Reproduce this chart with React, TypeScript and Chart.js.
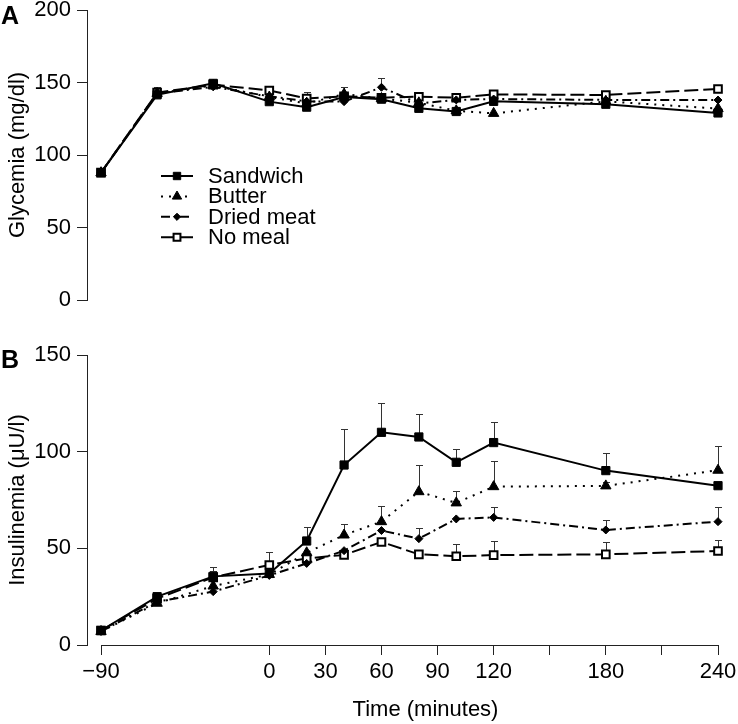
import React, { useEffect, useRef } from 'react';
import { Chart, registerables } from 'chart.js';

Chart.register(...registerables);

// ---------- data ----------
const times = [-90, -60, -30, 0, 20, 40, 60, 80, 100, 120, 180, 240];
const xTickValues = [-90, 0, 30, 60, 90, 120, 150, 180, 210, 240];
const xTickLabels = ['\u221290', '0', '30', '60', '90', '120', '', '180', '', '240'];
const seriesNames = ['Sandwich', 'Butter', 'Dried meat', 'No meal'];

// Panel A: glycemia (mg/dl)
const glySandwich = [87.8, 141.5, 149.4, 136.8, 133.0, 140.0, 138.5, 132.2, 130.0, 137.0, 135.0, 129.0];
const glyButter = [87.8, 142.5, 148.0, 140.0, 135.5, 142.0, 139.0, 136.0, 130.5, 128.7, 137.0, 132.0];
const glyDriedMeat = [87.8, 142.5, 147.0, 140.5, 137.0, 136.8, 146.7, 135.5, 138.0, 138.6, 138.0, 137.9];
const glyNoMeal = [87.8, 143.0, 148.5, 144.5, 139.0, 140.5, 139.5, 140.2, 139.5, 141.8, 141.4, 145.5];
const glySandwichErr = [0, 0, 0, 0, 0, 0, 0, 0, 0, 0, 0, 0];
const glyButterErr = [0, 0, 0, 0, 0, 5.0, 0, 0, 0, 0, 0, 0];
const glyDriedMeatErr = [0, 0, 0, 0, 0, 0, 6.2, 0, 0, 0, 0, 0];
const glyNoMealErr = [0, 4.0, 0, 0, 4.7, 0, 0, 0, 0, 0, 0, 0];

// Panel B: insulinemia (µU/l)
const insSandwich = [7.5, 25.0, 35.5, 37.0, 53.8, 93.1, 110.0, 107.6, 94.5, 104.7, 90.2, 82.4];
const insButter = [7.0, 21.6, 30.5, 36.5, 47.7, 56.9, 63.8, 79.3, 73.5, 81.9, 82.3, 90.4];
const insDriedMeat = [7.0, 22.4, 27.6, 36.0, 42.2, 48.8, 59.2, 55.0, 65.2, 66.0, 59.5, 63.8];
const insNoMeal = [7.5, 24.0, 35.0, 41.4, 44.8, 46.6, 53.3, 46.9, 45.9, 46.5, 46.9, 48.6];
const insSandwichErr = [0, 0, 5.0, 0, 7.2, 18.5, 15.0, 12.0, 7.0, 10.5, 9.3, 0];
const insButterErr = [0, 0, 0, 0, 0, 5.7, 8.3, 14.0, 6.3, 13.4, 2.2, 12.4];
const insDriedMeatErr = [0, 0, 0, 0, 0, 0, 0, 5.4, 0, 5.5, 5.0, 7.4];
const insNoMealErr = [0, 0, 3.5, 6.9, 0, 0, 0, 0, 6.5, 7.1, 6.2, 5.7];

// ---------- styles ----------
const FONT = "'Liberation Sans', Arial, Helvetica, sans-serif";
const AXIS = '#222';
const STYLE = [
  { dash: [], point: 'rect', r: 5.8, fill: '#000', bw: 1 },
  { dash: [2, 6], point: 'triangle', r: 6, fill: '#000', bw: 1 },
  { dash: [9, 4, 2, 4], point: 'rectRot', r: 4, fill: '#000', bw: 1 },
  { dash: [14, 5], point: 'rect', r: 5.4, fill: '#fff', bw: 2 },
];

function makeDatasets(vals: number[][], errs: number[][]) {
  return seriesNames.map((name, i) => ({
    label: name,
    data: times.map((t, j) => ({ x: t, y: vals[i][j] })),
    errors: errs[i],
    borderColor: '#000',
    borderWidth: 2,
    borderDash: STYLE[i].dash,
    pointStyle: STYLE[i].point,
    pointRadius: STYLE[i].r,
    pointBackgroundColor: STYLE[i].fill,
    pointBorderColor: '#000',
    pointBorderWidth: STYLE[i].bw,
    showLine: true,
    fill: false,
    tension: 0,
    clip: false,
  }));
}

const errorBarPlugin = {
  id: 'errorBars',
  beforeDatasetsDraw(chart: any) {
    const ctx = chart.ctx;
    const ys = chart.scales.y;
    ctx.save();
    ctx.strokeStyle = '#333';
    ctx.lineWidth = 1;
    chart.data.datasets.forEach((ds: any, i: number) => {
      const meta = chart.getDatasetMeta(i);
      const errs = ds.errors;
      if (!errs) return;
      meta.data.forEach((pt: any, j: number) => {
        const e = errs[j];
        if (!e) return;
        const v = ds.data[j].y;
        const x = Math.round(pt.x) + 0.5;
        const y1 = Math.round(ys.getPixelForValue(v + e)) + 0.5;
        ctx.beginPath();
        ctx.moveTo(x, pt.y);
        ctx.lineTo(x, y1);
        ctx.moveTo(x - 3.5, y1);
        ctx.lineTo(x + 3.5, y1);
        ctx.stroke();
      });
    });
    ctx.restore();
  },
};

function drawMarker(ctx: CanvasRenderingContext2D, style: string, x: number, y: number, r: number) {
  ctx.beginPath();
  if (style === 'rect') {
    const s = r * Math.SQRT1_2;
    ctx.rect(x - s, y - s, 2 * s, 2 * s);
  } else if (style === 'triangle') {
    ctx.moveTo(x, y - r);
    ctx.lineTo(x + r * 0.866, y + r * 0.5);
    ctx.lineTo(x - r * 0.866, y + r * 0.5);
    ctx.closePath();
  } else {
    ctx.moveTo(x - r, y);
    ctx.lineTo(x, y - r);
    ctx.lineTo(x + r, y);
    ctx.lineTo(x, y + r);
    ctx.closePath();
  }
}

const legendPlugin = {
  id: 'customLegend',
  afterDatasetsDraw(chart: any) {
    const ctx = chart.ctx;
    const { left, top } = chart.chartArea;
    ctx.save();
    chart.data.datasets.forEach((ds: any, i: number) => {
      const y = top + 166 + i * 20.4;
      const x0 = left + 74;
      ctx.strokeStyle = '#000';
      ctx.lineWidth = 2;
      ctx.setLineDash(ds.borderDash || []);
      ctx.beginPath();
      ctx.moveTo(x0, y);
      ctx.lineTo(x0 + 32, y);
      ctx.stroke();
      ctx.setLineDash([]);
      drawMarker(ctx, ds.pointStyle, x0 + 16, y, ds.pointRadius * 0.9);
      ctx.fillStyle = ds.pointBackgroundColor;
      ctx.fill();
      ctx.lineWidth = ds.pointBorderWidth;
      ctx.stroke();
      ctx.fillStyle = '#000';
      ctx.font = `22px ${FONT}`;
      ctx.textAlign = 'left';
      ctx.textBaseline = 'middle';
      ctx.fillText(ds.label, left + 121, y + 1);
    });
    ctx.restore();
  },
};

function panelLetter(letter: string, baseline: number) {
  return {
    id: 'panelLetter' + letter,
    afterDraw(chart: any) {
      const ctx = chart.ctx;
      ctx.save();
      ctx.fillStyle = '#000';
      ctx.font = `bold 25px ${FONT}`;
      ctx.textAlign = 'left';
      ctx.textBaseline = 'alphabetic';
      ctx.fillText(letter, 1, baseline);
      ctx.restore();
    },
  };
}

const xAxisPlugin = {
  id: 'xAxisLine',
  afterDraw(chart: any) {
    const ctx = chart.ctx;
    const xs = chart.scales.x;
    const y = Math.round(chart.chartArea.bottom) + 0.5;
    const x0 = xs.getPixelForValue(xTickValues[0]);
    const x1 = xs.getPixelForValue(xTickValues[xTickValues.length - 1]);
    ctx.save();
    ctx.strokeStyle = AXIS;
    ctx.lineWidth = 1;
    ctx.beginPath();
    ctx.moveTo(Math.round(x0), y);
    ctx.lineTo(Math.round(x1) + 1, y);
    ctx.stroke();
    ctx.fillStyle = '#000';
    ctx.font = `22px ${FONT}`;
    ctx.textAlign = 'center';
    ctx.textBaseline = 'alphabetic';
    ctx.fillText('Time (minutes)', (x0 + x1) / 2 + 16, chart.chartArea.bottom + 71);
    ctx.restore();
  },
};

function yScale(max: number, title: string) {
  return {
    type: 'linear',
    min: 0,
    max,
    afterFit(s: any) {
      s.width = 87;
      s.paddingTop = 0;
      s.paddingBottom = 0;
    },
    ticks: { stepSize: 50, color: '#000', font: { family: FONT, size: 22 }, padding: 6 },
    grid: { drawOnChartArea: false, drawTicks: true, tickLength: 10, color: AXIS, lineWidth: 1 },
    border: { display: true, color: AXIS, width: 1 },
    title: { display: true, text: title, color: '#000', font: { family: FONT, size: 22 }, padding: { top: 5, bottom: 0 } },
  };
}

function xScale(show: boolean) {
  return {
    type: 'linear',
    min: -97.5,
    max: 240,
    display: show,
    afterBuildTicks(s: any) {
      s.ticks = xTickValues.map((v) => ({ value: v }));
    },
    afterFit(s: any) {
      if (show) {
        s.height = 79;
        s.paddingLeft = 0;
        s.paddingRight = 0;
      }
    },
    ticks: {
      autoSkip: false,
      maxRotation: 0,
      color: '#000',
      font: { family: FONT, size: 22 },
      padding: 4,
      callback: (v: number) => {
        const k = xTickValues.indexOf(v);
        return k >= 0 ? xTickLabels[k] : '';
      },
    },
    grid: { drawOnChartArea: false, drawTicks: true, tickLength: 10, color: AXIS, lineWidth: 1 },
    border: { display: false },
  };
}

export default function App() {
  const topRef = useRef<HTMLCanvasElement>(null);
  const botRef = useRef<HTMLCanvasElement>(null);

  useEffect(() => {
    const common = {
      responsive: false,
      animation: false,
      events: [],
      plugins: { legend: { display: false }, tooltip: { enabled: false } },
    };
    const c1 = new Chart(topRef.current as HTMLCanvasElement, {
      type: 'line',
      data: {
        datasets: makeDatasets(
          [glySandwich, glyButter, glyDriedMeat, glyNoMeal],
          [glySandwichErr, glyButterErr, glyDriedMeatErr, glyNoMealErr]
        ) as any,
      },
      options: {
        ...common,
        layout: { padding: { left: 0, top: 10, right: 20, bottom: 20 } },
        scales: { x: xScale(false) as any, y: yScale(200, 'Glycemia (mg/dl)') as any },
      } as any,
      plugins: [errorBarPlugin, legendPlugin, panelLetter('A', 24)],
    });
    const c2 = new Chart(botRef.current as HTMLCanvasElement, {
      type: 'line',
      data: {
        datasets: makeDatasets(
          [insSandwich, insButter, insDriedMeat, insNoMeal],
          [insSandwichErr, insButterErr, insDriedMeatErr, insNoMealErr]
        ) as any,
      },
      options: {
        ...common,
        layout: { padding: { left: 0, top: 35, right: 20, bottom: 0 } },
        scales: { x: xScale(true) as any, y: yScale(150, 'Insulinemia (\u03bcU/l)') as any },
      } as any,
      plugins: [errorBarPlugin, xAxisPlugin, panelLetter('B', 48)],
    });
    return () => {
      c1.destroy();
      c2.destroy();
    };
  }, []);

  return (
    <div style={{ position: 'absolute', left: 0, top: 0, width: 738, height: 724, background: '#fff' }}>
      <canvas ref={topRef} width={738} height={320} style={{ position: 'absolute', left: 0, top: 0, display: 'block' }} />
      <canvas ref={botRef} width={738} height={404} style={{ position: 'absolute', left: 0, top: 320, display: 'block' }} />
    </div>
  );
}
